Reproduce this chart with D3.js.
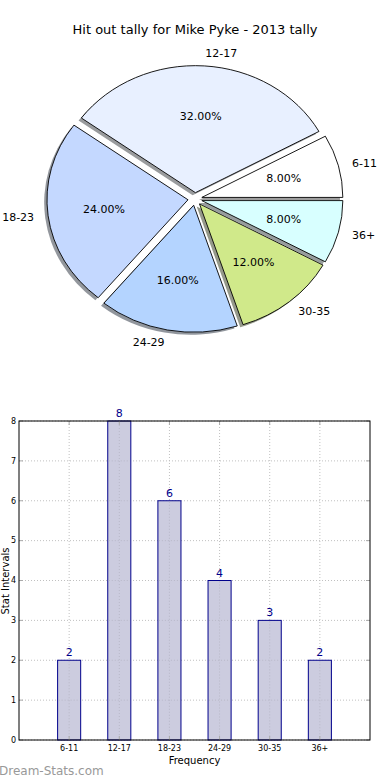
<!DOCTYPE html>
<html>
<head>
<meta charset="utf-8">
<script src="https://cdn.jsdelivr.net/npm/d3@7"></script>
<style>
html,body{margin:0;padding:0;background:#fff;}
svg{display:block;font-family:"DejaVu Sans",sans-serif;}
</style>
</head>
<body>
<svg id="chart" width="390" height="780"></svg>
<script>
const categories = ["6-11", "12-17", "18-23", "24-29", "30-35", "36+"];
const counts = [2, 8, 6, 4, 3, 2];
const pieColors = ["#ffffff", "#e8f0ff", "#c4d8ff", "#b4d4ff", "#d0e98a", "#d8ffff"];
const yTicks = [0, 1, 2, 3, 4, 5, 6, 7, 8];
const titleText = "Hit out tally for Mike Pyke - 2013 tally";

const svg = d3.select("#chart");

// ---------- PIE ----------
const cx = 195, cy = 199, rx = 141, ry = 127;
const explode = 0.05, labelDist = 1.1, pctDist = 0.6;
const total = d3.sum(counts);

svg.append("text").attr("x", 195).attr("y", 34).attr("text-anchor", "middle")
  .attr("font-size", 13).attr("fill", "#000").text(titleText);

const pie = d3.pie().sort(null).value(d => d).startAngle(Math.PI / 2).endAngle(Math.PI / 2 - 2 * Math.PI);
const arcs = pie(counts);
const arcGen = d3.arc().innerRadius(0).outerRadius(1);

const pieG = svg.append("g");
arcs.forEach((a, i) => {
  const mid = (a.startAngle + a.endAngle) / 2;
  const theta = Math.PI / 2 - mid;
  const ox = cx + explode * rx * Math.cos(theta);
  const oy = cy - explode * ry * Math.sin(theta);
  a.ox = ox; a.oy = oy; a.theta = theta;
  const c = d3.color(pieColors[i]);
  const sc = d3.rgb(c.r * 0.3, c.g * 0.3, c.b * 0.3);
  pieG.append("path")
    .attr("d", arcGen(a))
    .attr("transform", `translate(${ox - 0.02 * rx},${oy + 0.02 * ry}) scale(${rx},${ry})`)
    .attr("fill", sc).attr("fill-opacity", 0.55).attr("stroke", "none");
});
arcs.forEach((a, i) => {
  pieG.append("path")
    .attr("d", arcGen(a))
    .attr("transform", `translate(${a.ox},${a.oy}) scale(${rx},${ry})`)
    .attr("fill", pieColors[i]).attr("stroke", "#000").attr("stroke-width", 0.9)
    .attr("vector-effect", "non-scaling-stroke");
});
arcs.forEach((a, i) => {
  const c = Math.cos(a.theta), s = Math.sin(a.theta);
  const lx = a.ox + labelDist * rx * c, ly = a.oy - labelDist * ry * s;
  pieG.append("text").attr("x", lx).attr("y", ly).attr("dy", "0.35em")
    .attr("text-anchor", lx > cx ? "start" : "end")
    .attr("font-size", 11).attr("fill", "#000").text(categories[i]);
  const px = a.ox + pctDist * rx * c, py = a.oy - pctDist * ry * s;
  pieG.append("text").attr("x", px).attr("y", py).attr("dy", "0.35em")
    .attr("text-anchor", "middle").attr("font-size", 11).attr("fill", "#000")
    .text((counts[i] / total * 100).toFixed(2) + "%");
});

// ---------- BAR ----------
const L = 19, R = 370, T = 421, B = 740;
const x = d3.scaleLinear().domain([-1, categories.length]).range([L, R]);
const y = d3.scaleLinear().domain([0, 8]).range([B, T]);
const barW = 0.46;
const bg = svg.append("g");

bg.selectAll(".hg").data(yTicks).join("line")
  .attr("x1", L).attr("x2", R).attr("y1", d => y(d)).attr("y2", d => y(d))
  .attr("stroke", "#c0c0c0").attr("stroke-width", 1).attr("stroke-dasharray", "1,2");
bg.selectAll(".vg").data(categories).join("line")
  .attr("x1", (d, i) => x(i)).attr("x2", (d, i) => x(i)).attr("y1", T).attr("y2", B)
  .attr("stroke", "#c0c0c0").attr("stroke-width", 1).attr("stroke-dasharray", "1,2");

bg.selectAll(".bar").data(counts).join("rect")
  .attr("x", (d, i) => x(i - barW / 2)).attr("width", x(barW) - x(0))
  .attr("y", d => y(d)).attr("height", d => B - y(d))
  .attr("fill", "#ccccdf").attr("stroke", "#00008b").attr("stroke-width", 1);
bg.selectAll(".vg2").data(counts).join("line")
  .attr("x1", (d, i) => x(i)).attr("x2", (d, i) => x(i)).attr("y1", d => y(d) + 1).attr("y2", B)
  .attr("stroke", "#b8b8c8").attr("stroke-width", 1).attr("stroke-dasharray", "1,2");
bg.selectAll(".hg2").data(counts).join("g").each(function(d, i) {
  d3.select(this).selectAll("line").data(yTicks.filter(t => t > 0 && t < d)).join("line")
    .attr("x1", x(i - barW / 2) + 1).attr("x2", x(i + barW / 2) - 1)
    .attr("y1", t => y(t)).attr("y2", t => y(t))
    .attr("stroke", "#b8b8c8").attr("stroke-width", 1).attr("stroke-dasharray", "1,2");
});

bg.selectAll(".val").data(counts).join("text")
  .attr("x", (d, i) => x(i)).attr("y", d => y(d) - 4)
  .attr("text-anchor", "middle").attr("font-size", 11).attr("fill", "#00008b").text(d => d);

bg.selectAll(".ytl").data(yTicks).join("line")
  .attr("x1", L).attr("x2", L + 4).attr("y1", d => y(d)).attr("y2", d => y(d)).attr("stroke", "#aaa");
bg.selectAll(".ytr").data(yTicks).join("line")
  .attr("x1", R - 4).attr("x2", R).attr("y1", d => y(d)).attr("y2", d => y(d)).attr("stroke", "#aaa");
bg.selectAll(".xtt").data(categories).join("line")
  .attr("x1", (d, i) => x(i)).attr("x2", (d, i) => x(i)).attr("y1", T).attr("y2", T + 4).attr("stroke", "#aaa");
bg.selectAll(".xtb").data(categories).join("line")
  .attr("x1", (d, i) => x(i)).attr("x2", (d, i) => x(i)).attr("y1", B - 4).attr("y2", B).attr("stroke", "#aaa");

bg.append("rect").attr("x", L).attr("y", T).attr("width", R - L).attr("height", B - T)
  .attr("fill", "none").attr("stroke", "#000").attr("stroke-width", 1);

bg.selectAll(".ylab").data(yTicks).join("text")
  .attr("x", L - 3).attr("y", d => y(d)).attr("dy", "0.35em").attr("text-anchor", "end")
  .attr("font-size", 8).attr("fill", "#000").text(d => d);
bg.selectAll(".xlab").data(categories).join("text")
  .attr("x", (d, i) => x(i)).attr("y", B + 11).attr("text-anchor", "middle")
  .attr("font-size", 8).attr("fill", "#000").text(d => d);

svg.append("text").attr("x", (L + R) / 2).attr("y", 764).attr("text-anchor", "middle")
  .attr("font-size", 10).attr("fill", "#000").text("Frequency");
svg.append("text").attr("transform", "translate(9,581) rotate(-90)").attr("text-anchor", "middle")
  .attr("font-size", 10).attr("fill", "#000").text("Stat Intervals");

svg.append("text").attr("x", -1).attr("y", 775).attr("font-size", 12)
  .attr("fill", "#999999").text("Dream-Stats.com");
</script>
</body>
</html>
